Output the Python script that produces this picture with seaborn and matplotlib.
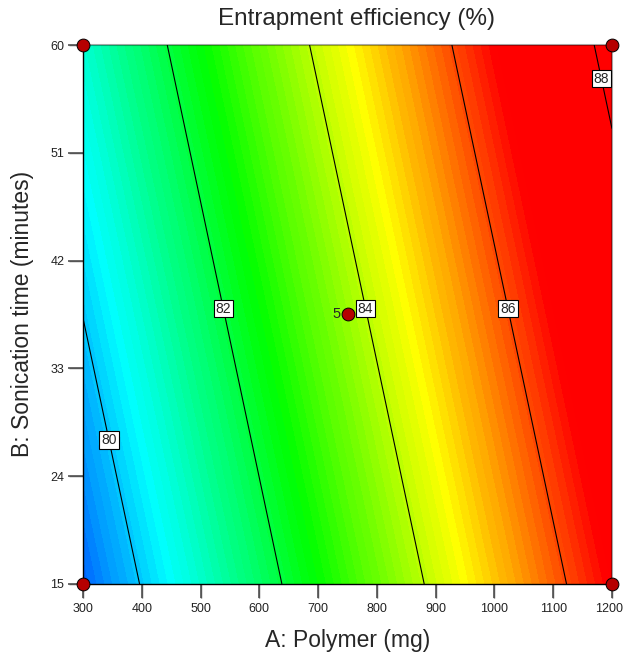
import matplotlib
matplotlib.use("Agg")
import matplotlib.pyplot as plt
from matplotlib.colors import LinearSegmentedColormap
from matplotlib.transforms import offset_copy
import numpy as np
import pandas as pd
import seaborn as sns

# fitted linear model: EE = b0 + bA*A + bB*B
b0 = 76.19
bA = 0.00826
bB = 0.0358

a_range = [300, 1200]
b_range = [15, 60]
x_ticks = [300, 400, 500, 600, 700, 800, 900, 1000, 1100, 1200]
y_ticks = [15, 24, 33, 42, 51, 60]
contour_levels = [80, 82, 84, 86, 88]
label_heights = [27, 38, 38, 38, 57.2]

# design points (factorial corners + centre point with 5 replicates)
design_a = [300, 300, 1200, 1200, 750]
design_b = [15, 60, 15, 60, 37.5]
design_reps = [1, 1, 1, 1, 5]

# colour anchors (response value, colour)
cmap_values = [78.4, 80.44, 82.5, 84.57, 86.6, 88.3]
cmap_colors = ["#0000ff", "#00ffff", "#00ff00", "#ffff00", "#ff0000", "#ff0000"]

sns.set_style("ticks")
plt.rcParams["font.family"] = ["Liberation Sans", "DejaVu Sans"]

lo, hi = cmap_values[0], cmap_values[-1]
cmap = LinearSegmentedColormap.from_list(
    "de", [((v - lo) / (hi - lo), c) for v, c in zip(cmap_values, cmap_colors)])

A, B = np.meshgrid(np.linspace(*a_range, 300), np.linspace(*b_range, 200))
EE = b0 + bA * A + bB * B

fig = plt.figure(figsize=(6.23, 6.61), dpi=100)
ax = fig.add_axes([83 / 623, 1 - 584 / 661, 529 / 623, 539 / 661])

ax.contourf(A, B, EE, levels=np.linspace(lo, hi, 90), cmap=cmap, vmin=lo, vmax=hi)
ax.contour(A, B, EE, levels=contour_levels, colors="black", linewidths=0.8)

for lev, yb in zip(contour_levels, label_heights):
    xa = (lev - b0 - bB * yb) / bA
    ax.text(xa, yb, str(lev), fontsize=10, ha="center", va="center", zorder=5,
            bbox=dict(facecolor="white", edgecolor="black", linewidth=0.8, pad=1.4))

ax.set_xlim(a_range)
ax.set_ylim(b_range)
ax.set_xticks(x_ticks)
ax.set_yticks(y_ticks)
ax.tick_params(axis="both", which="major", direction="out", length=10, width=1.0,
               color="#555555", labelsize=9, labelcolor="#222222")
ax.tick_params(axis="x", pad=4)
ax.tick_params(axis="y", pad=3.5)

# tick marks drawn explicitly (14 px long, outward)
ax.vlines(x_ticks, -14 / 539, 0, transform=ax.get_xaxis_transform(), colors="#555555",
          linewidth=1.2, clip_on=False, zorder=1)
ax.hlines(y_ticks, -15 / 529, 0, transform=ax.get_yaxis_transform(), colors="#555555",
          linewidth=1.2, clip_on=False, zorder=1)

pts = pd.DataFrame({"A": design_a, "B": design_b, "reps": design_reps})
sns.scatterplot(data=pts, x="A", y="B", ax=ax, color="#b50000", edgecolor="black",
                linewidth=0.7, s=85, zorder=6, clip_on=False, legend=False)
for _, r in pts[pts["reps"] > 1].iterrows():
    ax.annotate(str(int(r["reps"])), (r["A"], r["B"]), xytext=(-5, 0),
                textcoords="offset points", ha="right", va="center", fontsize=10.5)

# keep the last x tick label inside the figure
last = ax.get_xticklabels()[-1]
last.set_transform(offset_copy(last.get_transform(), fig=fig, x=-3, units="dots"))

for side in ["left", "bottom"]:
    ax.spines[side].set_color("black")
    ax.spines[side].set_linewidth(1.0)
for side in ["top", "right"]:
    ax.spines[side].set_visible(True)
    ax.spines[side].set_color((0, 0, 0, 0.35))
    ax.spines[side].set_linewidth(1.5)

ax.set_xlabel("")
ax.set_ylabel("")
fig.text(356 / 623, 1 - 19 / 661, "Entrapment efficiency (%)", fontsize=17.5,
         ha="center", va="center")
fig.text(348 / 623, 1 - 640 / 661, "A: Polymer (mg)", fontsize=16.5,
         ha="center", va="center")
fig.text(23 / 623, 1 - 314 / 661, "B: Sonication time (minutes)", fontsize=16.5,
         ha="center", va="center", rotation=90)

fig.savefig("out.png", dpi=100)
